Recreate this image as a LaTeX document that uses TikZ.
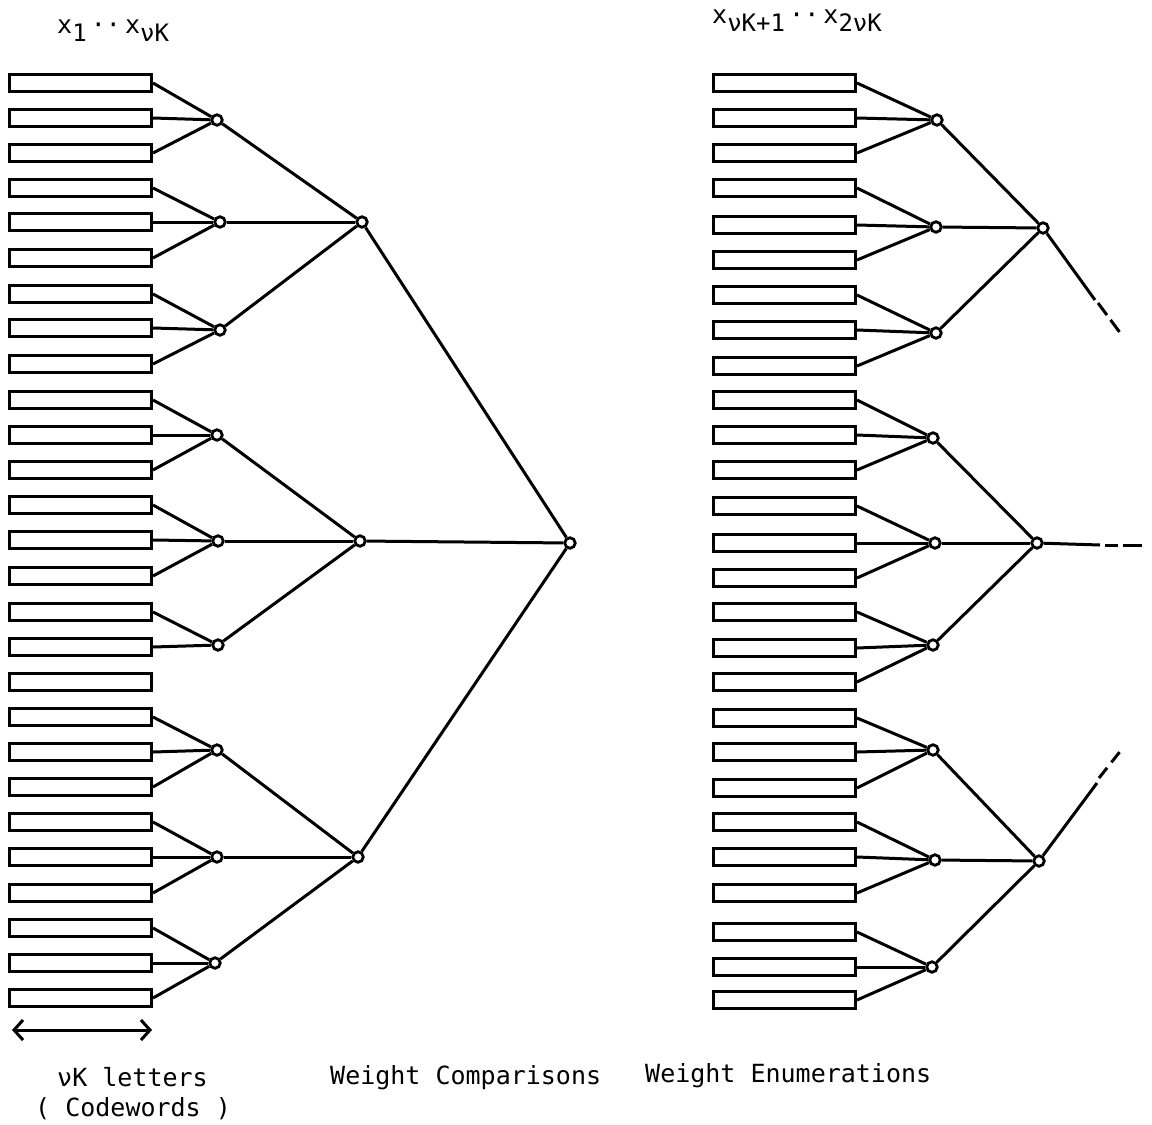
\documentclass[tikz,border=0pt]{standalone}
\usepackage{fontspec}
\setmonofont{DejaVu Sans Mono}
\usetikzlibrary{arrows.meta}
\begin{document}
\begin{tikzpicture}[x=1pt,y=-1pt,
  cell/.style={draw, line width=3pt, minimum width=142pt, minimum height=16.5pt, inner sep=0pt},
  joint/.style={circle, draw, fill=white, line width=2.8pt, minimum size=10.5pt, inner sep=0pt},
  wire/.style={line width=3pt},
  lbl/.style={inner sep=0pt, font=\ttfamily\fontsize{25}{28}\selectfont}
]
\newcommand{\lowsub}[1]{\raisebox{-8pt}{\fontsize{24}{24}\selectfont #1}}
\useasboundingbox (0,0) rectangle (1152,1125);

% ---- letter cells, left word
\foreach \y [count=\i] in {83,118,153,188,222,258,294,328,364,400,435,470,505,540,576,612,647,682,717,752,787,822,857,893,928,963,998}
  \node[cell] (l\i) at (80.5,\y) {};
% ---- letter cells, right word
\foreach \y [count=\i] in {83,118,153,188,225,260,295,330,366,400,435,470,506,543,578,612,648,682,718,752,788,822,857,893,932,967,1000}
  \node[cell] (r\i) at (784.5,\y) {};

% ---- comparison tree, left
\node[joint] (a1) at (217,120) {};
\node[joint] (a2) at (220,222) {};
\node[joint] (a3) at (220,330) {};
\node[joint] (a4) at (217,435) {};
\node[joint] (a5) at (218,541) {};
\node[joint] (a6) at (218,645) {};
\node[joint] (a7) at (217,750) {};
\node[joint] (a8) at (217,857) {};
\node[joint] (a9) at (215,963) {};
\node[joint] (b1) at (362,222) {};
\node[joint] (b2) at (360,541) {};
\node[joint] (b3) at (358,857) {};
\node[joint] (c)  at (570,543) {};

\foreach \n/\k in {a1/1,a1/2,a1/3,a2/4,a2/5,a2/6,a3/7,a3/8,a3/9,a4/10,a4/11,a4/12,
                   a5/13,a5/14,a5/15,a6/16,a6/17,a7/19,a7/20,a7/21,a8/22,a8/23,a8/24,
                   a9/25,a9/26,a9/27}
  \draw[wire] (l\k.east) -- (\n);
\foreach \n/\m in {b1/a1,b1/a2,b1/a3,b2/a4,b2/a5,b2/a6,b3/a7,b3/a8,b3/a9,c/b1,c/b2,c/b3}
  \draw[wire] (\m) -- (\n);

% ---- enumeration tree, right
\node[joint] (d1) at (937,120) {};
\node[joint] (d2) at (936,227) {};
\node[joint] (d3) at (936,333) {};
\node[joint] (d4) at (933,438) {};
\node[joint] (d5) at (935,543) {};
\node[joint] (d6) at (933,645) {};
\node[joint] (d7) at (933,750) {};
\node[joint] (d8) at (935,860) {};
\node[joint] (d9) at (932,967) {};
\node[joint] (e1) at (1043,228) {};
\node[joint] (e2) at (1037,543) {};
\node[joint] (e3) at (1039,861) {};

\foreach \n/\k in {d1/1,d1/2,d1/3,d2/4,d2/5,d2/6,d3/7,d3/8,d3/9,d4/10,d4/11,d4/12,
                   d5/13,d5/14,d5/15,d6/16,d6/17,d6/18,d7/19,d7/20,d7/21,d8/22,d8/23,d8/24,
                   d9/25,d9/26,d9/27}
  \draw[wire] (r\k.east) -- (\n);
\foreach \n/\m in {e1/d1,e1/d2,e1/d3,e2/d4,e2/d5,e2/d6,e3/d7,e3/d8,e3/d9}
  \draw[wire] (\m) -- (\n);

% ---- continuation stubs
\coordinate (e1s) at (1095,300);
\coordinate (e1d) at (1098,303);
\coordinate (e1t) at (1121,334);
\draw[wire] (e1) -- (e1s);
\draw[wire, dash pattern=on 15pt off 6pt] (e1d) -- (e1t);

\coordinate (e2s) at (1100,545);
\coordinate (e2d) at (1105,545);
\coordinate (e2t) at (1142,545);
\draw[wire] (e2) -- (e2s);
\draw[wire, dash pattern=on 13pt off 5pt on 20pt off 5pt] (e2d) -- (e2t);

\coordinate (e3s) at (1097,783);
\coordinate (e3d) at (1099,778);
\coordinate (e3t) at (1122,749);
\draw[wire] (e3) -- (e3s);
\draw[wire, dash pattern=on 13pt off 7pt] (e3d) -- (e3t);

% ---- word length arrow
\coordinate (wl) at (12,1030);
\coordinate (wr) at (152,1030);
\draw[wire, {Straight Barb[length=9pt,width=20pt,line width=3pt]}-{Straight Barb[length=9pt,width=20pt,line width=3pt]}] (wl) -- (wr);

% ---- labels
\node[lbl, anchor=base west] (tl) at (57,33) {x\lowsub{1}\,··\,x\lowsub{νK}};
\node[lbl, anchor=base west] (tr) at (712,23) {x\lowsub{νK+1}\,··\,x\lowsub{2νK}};
\node[lbl, anchor=base west] (n1) at (57,1086) {νK letters};
\node[lbl, anchor=base west] (n2) at (35,1116) {( Codewords )};
\node[lbl, anchor=base west] (n3) at (330,1084) {Weight Comparisons};
\node[lbl, anchor=base west] (n4) at (645,1082) {Weight Enumerations};
\end{tikzpicture}
\end{document}
